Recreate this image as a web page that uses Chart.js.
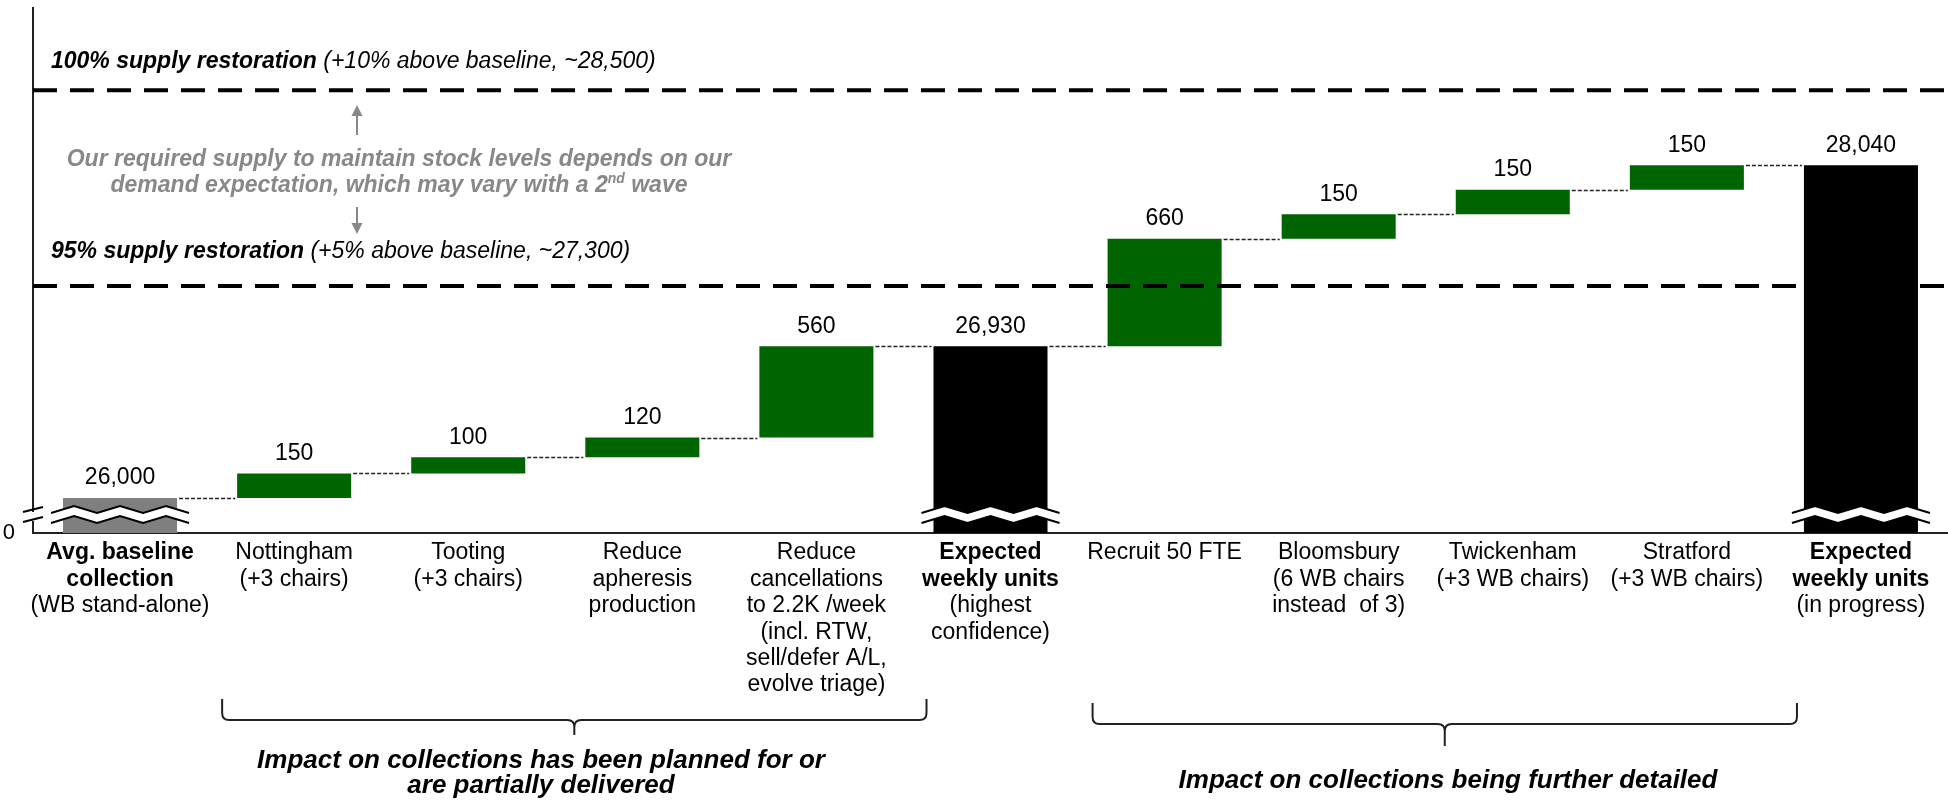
<!doctype html>
<html>
<head>
<title>Weekly collections bridge</title>
<script src="https://cdn.jsdelivr.net/npm/chart.js@4.4.0/dist/chart.umd.min.js"></script>
<style>
  body { margin: 0; background: #fff; }
  canvas { display: block; }
</style>
</head>
<body>
<canvas id="canvas" width="1948" height="805"></canvas>
<script>
// --- data ---
var categories = ['Avg. baseline collection', 'Nottingham', 'Tooting', 'Reduce apheresis production',
  'Reduce cancellations', 'Expected weekly units (highest confidence)', 'Recruit 50 FTE',
  'Bloomsbury', 'Twickenham', 'Stratford', 'Expected weekly units (in progress)'];

// bold lines first, then regular lines under each column
var boldLines = [['Avg. baseline', 'collection'], [], [], [], [], ['Expected', 'weekly units'],
  [], [], [], [], ['Expected', 'weekly units']];
var plainLines = [['(WB stand-alone)'], ['Nottingham', '(+3 chairs)'], ['Tooting', '(+3 chairs)'],
  ['Reduce', 'apheresis', 'production'],
  ['Reduce', 'cancellations', 'to 2.2K /week', '(incl. RTW,', 'sell/defer A/L,', 'evolve triage)'],
  ['(highest', 'confidence)'], ['Recruit 50 FTE'], ['Bloomsbury', '(6 WB chairs', 'instead  of 3)'],
  ['Twickenham', '(+3 WB chairs)'], ['Stratford', '(+3 WB chairs)'], ['(in progress)']];

var kinds = ['base', 'step', 'step', 'step', 'step', 'total', 'step', 'step', 'step', 'step', 'total'];
var values = [26000, 150, 100, 120, 560, null, 660, 150, 150, 150, null];

var yTickLabels = ['0'];
var axisFloor = 25785;   // value sitting on the broken axis
var axisCeil = 29005;

var targetValues = [28500, 27300];
var targetBold = ['100% supply restoration', '95% supply restoration'];
var targetNotes = [' (+10% above baseline, ~28,500)', ' (+5% above baseline, ~27,300)'];

var noteLine1 = 'Our required supply to maintain stock levels depends on our';
var noteLine2 = ['demand expectation, which may vary with a 2', 'nd', ' wave'];

var groupRanges = [[1, 5], [6, 10]];
var groupCaptions = [['Impact on collections has been planned for or', 'are partially delivered'],
  ['Impact on collections being further detailed']];

var colors = { base: '#7f7f7f', step: '#006400', total: '#000000' };

// floating ranges for the waterfall
var ranges = [], labels = [];
var running = 0;
for (var i = 0; i < kinds.length; i++) {
  if (kinds[i] === 'base') {
    running = values[i];
    ranges.push([axisFloor, running]);
    labels.push(running.toLocaleString('en-US'));
  } else if (kinds[i] === 'total') {
    ranges.push([axisFloor, running]);
    labels.push(running.toLocaleString('en-US'));
  } else {
    ranges.push([running, running + values[i]]);
    running += values[i];
    labels.push(values[i].toLocaleString('en-US'));
  }
}

var FONT = "'Liberation Sans', Arial, sans-serif";

function zigzagPoints(x0, x1, yValley, amp) {
  var pts = [], seg = (x1 - x0) / 6;
  for (var k = 0; k <= 6; k++) pts.push([x0 + k * seg, k % 2 ? yValley - amp : yValley]);
  return pts;
}

function arrow(ctx, x, yFrom, yTo) {
  var dir = yTo > yFrom ? 1 : -1;
  ctx.beginPath();
  ctx.moveTo(x, yFrom);
  ctx.lineTo(x, yTo - dir * 10);
  ctx.stroke();
  ctx.beginPath();
  ctx.moveTo(x, yTo);
  ctx.lineTo(x - 5.5, yTo - dir * 11);
  ctx.lineTo(x + 5.5, yTo - dir * 11);
  ctx.closePath();
  ctx.fill();
}

function brace(ctx, x0, x1, top, h, notch) {
  var mid = (x0 + x1) / 2, r = 7;
  ctx.beginPath();
  ctx.moveTo(x0, top);
  ctx.lineTo(x0, h - r);
  ctx.quadraticCurveTo(x0, h, x0 + r, h);
  ctx.lineTo(mid - r, h);
  ctx.quadraticCurveTo(mid, h, mid, h + r);
  ctx.lineTo(mid, notch);
  ctx.moveTo(mid, h + r);
  ctx.quadraticCurveTo(mid, h, mid + r, h);
  ctx.lineTo(x1 - r, h);
  ctx.quadraticCurveTo(x1, h, x1, h - r);
  ctx.lineTo(x1, top);
  ctx.stroke();
}

var waterfallExtras = {
  id: 'waterfallExtras',
  afterDatasetsDraw: function(chart) {
    var ctx = chart.ctx, area = chart.chartArea, y = chart.scales.y;
    var bars = chart.getDatasetMeta(0).data;
    ctx.save();

    // dotted connectors between running levels
    ctx.strokeStyle = '#222';
    ctx.lineWidth = 1.5;
    ctx.setLineDash([4, 2]);
    for (var i = 0; i < bars.length - 1; i++) {
      var yy = Math.round(bars[i].y) + 0.5;
      ctx.beginPath();
      ctx.moveTo(bars[i].x + bars[i].width / 2 + 2, yy);
      ctx.lineTo(bars[i + 1].x - bars[i + 1].width / 2 - 2, yy);
      ctx.stroke();
    }
    ctx.setLineDash([]);

    // axis-break zigzags on the columns that start from zero
    bars.forEach(function(b, i) {
      if (kinds[i] === 'step') return;
      var x0 = b.x - b.width / 2 - 12, x1 = b.x + b.width / 2 + 12;
      var up = zigzagPoints(x0, x1, area.bottom - 20, 7);
      var lo = zigzagPoints(x0, x1, area.bottom - 10, 7);
      ctx.fillStyle = '#fff';
      ctx.beginPath();
      up.forEach(function(p, k) { k ? ctx.lineTo(p[0], p[1]) : ctx.moveTo(p[0], p[1]); });
      lo.slice().reverse().forEach(function(p) { ctx.lineTo(p[0], p[1]); });
      ctx.closePath();
      ctx.fill();
      ctx.strokeStyle = '#000';
      ctx.lineWidth = 2;
      [up, lo].forEach(function(line) {
        ctx.beginPath();
        line.forEach(function(p, k) { k ? ctx.lineTo(p[0], p[1]) : ctx.moveTo(p[0], p[1]); });
        ctx.stroke();
      });
    });

    // value labels
    ctx.fillStyle = '#000';
    ctx.font = '23px ' + FONT;
    ctx.textAlign = 'center';
    ctx.textBaseline = 'middle';
    bars.forEach(function(b, i) { ctx.fillText(labels[i], b.x, b.y - 20); });

    // supply restoration lines
    ctx.strokeStyle = '#000';
    ctx.lineWidth = 4;
    ctx.setLineDash([24, 13]);
    var lift = [29, 34];
    targetValues.forEach(function(v, i) {
      var ty = y.getPixelForValue(v);
      ctx.beginPath();
      ctx.moveTo(area.left, ty);
      ctx.lineTo(chart.width, ty);
      ctx.stroke();
      ctx.textAlign = 'left';
      ctx.font = 'italic bold 23px ' + FONT;
      ctx.fillText(targetBold[i], 51, ty - lift[i]);
      var w = ctx.measureText(targetBold[i]).width;
      ctx.font = 'italic 23px ' + FONT;
      ctx.fillText(targetNotes[i], 51 + w, ty - lift[i]);
    });
    ctx.setLineDash([]);
    ctx.restore();
  },
  afterDraw: function(chart) {
    var ctx = chart.ctx, area = chart.chartArea, x = chart.scales.x;
    ctx.save();

    // break marks on the value axis
    ctx.fillStyle = '#fff';
    ctx.fillRect(area.left - 3, area.bottom - 21, 6, 9);
    ctx.strokeStyle = '#000';
    ctx.lineWidth = 2;
    [[-21, -26], [-11, -16]].forEach(function(d) {
      ctx.beginPath();
      ctx.moveTo(area.left - 10, area.bottom + d[0]);
      ctx.lineTo(area.left + 10, area.bottom + d[1]);
      ctx.stroke();
    });

    // category labels
    ctx.fillStyle = '#000';
    ctx.textAlign = 'center';
    ctx.textBaseline = 'middle';
    categories.forEach(function(c, i) {
      var cx = x.getPixelForValue(i), ly = area.bottom + 20;
      ctx.font = 'bold 23px ' + FONT;
      boldLines[i].forEach(function(t) { ctx.fillText(t, cx, ly); ly += 26.4; });
      ctx.font = '23px ' + FONT;
      plainLines[i].forEach(function(t) { ctx.fillText(t, cx, ly); ly += 26.4; });
    });

    // grey demand note with arrows
    ctx.fillStyle = '#888';
    ctx.strokeStyle = '#888';
    ctx.lineWidth = 2;
    ctx.font = 'italic bold 23px ' + FONT;
    ctx.fillText(noteLine1, 399, 160);
    var big = 'italic bold 23px ' + FONT, small = 'italic bold 14px ' + FONT;
    ctx.font = big;
    var w0 = ctx.measureText(noteLine2[0]).width, w2 = ctx.measureText(noteLine2[2]).width;
    ctx.font = small;
    var w1 = ctx.measureText(noteLine2[1]).width;
    var sx = 399 - (w0 + w1 + w2) / 2;
    ctx.textAlign = 'left';
    ctx.font = big;
    ctx.fillText(noteLine2[0], sx, 186);
    ctx.font = small;
    ctx.fillText(noteLine2[1], sx + w0, 179);
    ctx.font = big;
    ctx.fillText(noteLine2[2], sx + w0 + w1, 186);
    arrow(ctx, 357, 135, 105);
    arrow(ctx, 357, 207, 234);

    // group braces and captions
    ctx.strokeStyle = '#222';
    ctx.lineWidth = 2;
    var braceY = [[699, 720, 735], [703, 724, 746]];
    var capX = [541, 1448], capY = [[761, 786], [781]];
    groupRanges.forEach(function(g, i) {
      var x0 = x.getPixelForValue(g[0]) - 72, x1 = x.getPixelForValue(g[1]) - 64;
      brace(ctx, x0, x1, braceY[i][0], braceY[i][1], braceY[i][2]);
      ctx.fillStyle = '#000';
      ctx.textAlign = 'center';
      ctx.font = 'italic bold 26px ' + FONT;
      groupCaptions[i].forEach(function(t, k) { ctx.fillText(t, capX[i], capY[i][k]); });
    });
    ctx.restore();
  }
};

Chart.defaults.font.family = FONT;

window.onload = function() {
  var ctx = document.getElementById('canvas').getContext('2d');
  window.myBar = new Chart(ctx, {
    type: 'bar',
    data: {
      labels: categories,
      datasets: [{
        data: ranges,
        backgroundColor: kinds.map(function(k) { return colors[k]; }),
        borderWidth: 0,
        categoryPercentage: 1,
        barPercentage: 0.655
      }]
    },
    options: {
      responsive: false,
      animation: false,
      devicePixelRatio: 1,
      layout: { padding: { top: 8, right: 0, left: 0, bottom: 0 } },
      plugins: { legend: { display: false }, tooltip: { enabled: false } },
      scales: {
        x: {
          grid: { display: false },
          border: { display: true, color: '#222', width: 2 },
          ticks: { display: false },
          afterFit: function(s) {
            s.height = 805 - 533;
            s.paddingLeft = 0; s.paddingRight = 0;
          }
        },
        y: {
          min: axisFloor,
          max: axisCeil,
          grid: { display: false },
          border: { display: true, color: '#222', width: 2 },
          afterBuildTicks: function(s) { s.ticks = [{ value: axisFloor }]; },
          ticks: {
            padding: 10,
            color: '#000',
            font: { size: 22 },
            callback: function(v, i) { return yTickLabels[i]; }
          },
          afterFit: function(s) {
            s.width = 33;
            s.paddingTop = 0; s.paddingBottom = 0;
          }
        }
      }
    },
    plugins: [waterfallExtras]
  });
};
</script>
</body>
</html>
